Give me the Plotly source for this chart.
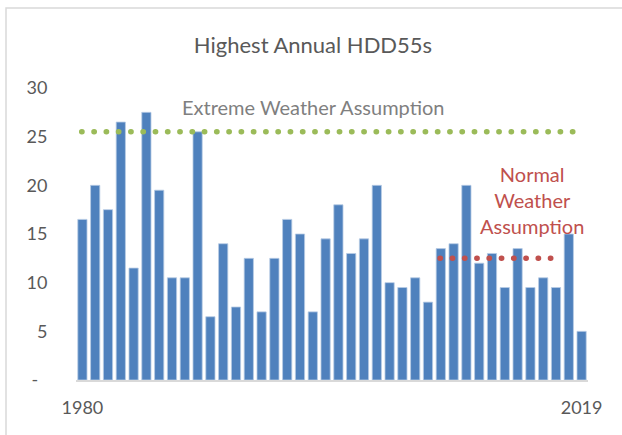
import plotly.graph_objects as go

years = list(range(1980, 2020))
hdd55 = [16.5, 20, 17.5, 26.5, 11.5, 27.5, 19.5, 10.5, 10.5, 25.5,
         6.5, 14, 7.5, 12.5, 7, 12.5, 16.5, 15, 7, 14.5,
         18, 13, 14.5, 20, 10, 9.5, 10.5, 8, 13.5, 14,
         20, 12, 13, 9.5, 13.5, 9.5, 10.5, 9.5, 15, 5]

extreme_x = [1979.945, 2018.42]
extreme_y = [25.5, 25.5]
normal_x = [2007.94, 2016.7]
normal_y = [12.5, 12.5]

y_ticks = [0, 5, 10, 15, 20, 25, 30]
y_ticktext = ["-\u00a0\u00a0", "5", "10", "15", "20", "25", "30"]
x_ticks = [1980, 2019]
x_ticktext = ["1980", "2019"]

FONT = "Lato, 'Open Sans', sans-serif"

fig = go.Figure()
fig.add_trace(go.Bar(x=years, y=hdd55, marker=dict(color="#4f81bd", line=dict(color="#b8cce4", width=0.8)),
                     width=0.72, showlegend=False, hoverinfo="skip"))
fig.add_trace(go.Scatter(x=extreme_x, y=extreme_y, mode="lines",
                         line=dict(color="#9bbb59", width=5.5, dash="0.3px,11.97px"), showlegend=False,
                         hoverinfo="skip"))
fig.add_trace(go.Scatter(x=normal_x, y=normal_y, mode="lines",
                         line=dict(color="#c0504d", width=5.5, dash="0.3px,11.97px"), showlegend=False,
                         hoverinfo="skip"))

fig.update_layout(
    width=622, height=435,
    margin=dict(l=76, r=34, t=88, b=55),
    paper_bgcolor="white", plot_bgcolor="white",
    font=dict(family=FONT, color="#595959", size=18),
    title=dict(text="Highest Annual HDD55s", x=313/622, xanchor="center", y=1-45/435, yanchor="middle",
               font=dict(size=22, color="#595959", family=FONT)),
    xaxis=dict(range=[1979.5, 2019.5], tickvals=x_ticks, ticktext=x_ticktext, showgrid=False,
               showline=True, linecolor="#d9d9d9", linewidth=1.5, ticks="outside", ticklen=11,
               tickcolor="rgba(0,0,0,0)", zeroline=False),
    yaxis=dict(range=[0, 30], tickvals=y_ticks, ticktext=y_ticktext, showgrid=False, zeroline=False,
               showline=False, ticks="outside", ticklen=24, tickcolor="rgba(0,0,0,0)"),
    shapes=[dict(type="rect", xref="paper", yref="paper", x0=-0.1367, x1=1.08, y0=-0.2, y1=1.274,
                 line=dict(color="#d9d9d9", width=1.5), fillcolor="rgba(0,0,0,0)", layer="below")],
    annotations=[
        dict(text="Extreme Weather Assumption", xref="paper", yref="paper", x=(313-76)/512, y=(380-107)/292,
             showarrow=False, xanchor="center", yanchor="middle", font=dict(size=20, color="#7f7f7f", family=FONT)),
        dict(text="Normal<br>Weather<br>Assumption", xref="paper", yref="paper", x=(532-76)/512, y=(380-200)/292,
             showarrow=False, xanchor="center", yanchor="middle", align="center",
             font=dict(size=20, color="#c0504d", family=FONT)),
    ],
)

post = """
document.body.style.margin = '0px';
document.querySelectorAll('.scatterlayer .js-line').forEach(function(p){
  p.style.strokeLinecap = 'round';
});
"""

fig.write_html("out.html", post_script=post, config={"displayModeBar": False})
